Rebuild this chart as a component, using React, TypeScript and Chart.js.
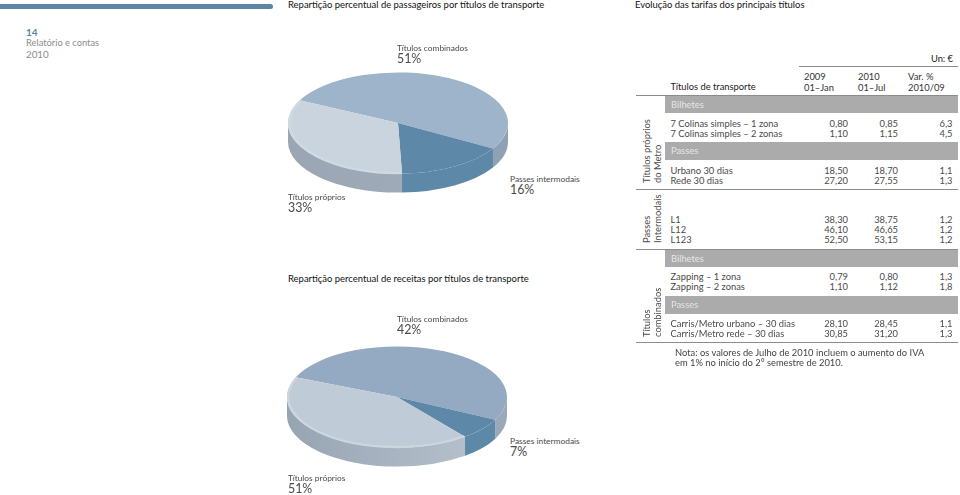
import React, { useEffect, useRef } from "react";
import { Chart, registerables } from "chart.js";

Chart.register(...registerables);

// ---- data ----
const passengerSlices = [51, 16, 33];
const revenueSlices = [51, 7, 42];
const sliceNames = ["Títulos combinados", "Passes intermodais", "Títulos próprios"];

const passengerLabels = ["51%", "16%", "33%"];
const revenueLabels = ["42%", "7%", "51%"];

const table1Header = ["2009", "2010", "Var. %"];
const table1Sub = ["01–Jan", "01–Jul", "2010/09"];

const bilhetesMetro = [
  ["7 Colinas simples – 1 zona", "0,80", "0,85", "6,3"],
  ["7 Colinas simples – 2 zonas", "1,10", "1,15", "4,5"],
];
const passesMetro = [
  ["Urbano 30 dias", "18,50", "18,70", "1,1"],
  ["Rede 30 dias", "27,20", "27,55", "1,3"],
];
const intermodais = [
  ["L1", "38,30", "38,75", "1,2"],
  ["L12", "46,10", "46,65", "1,2"],
  ["L123", "52,50", "53,15", "1,2"],
];
const bilhetesComb = [
  ["Zapping – 1 zona", "0,79", "0,80", "1,3"],
  ["Zapping – 2 zonas", "1,10", "1,12", "1,8"],
];
const passesComb = [
  ["Carris/Metro urbano – 30 dias", "28,10", "28,45", "1,1"],
  ["Carris/Metro rede – 30 dias", "30,85", "31,20", "1,3"],
];

const FONT = "Lato, 'Open Sans', sans-serif";
const BODY = 9.35;
const PIE_LABEL = 8.4;
const PIE_PCT = 12.4;

const extrude = {
  id: "extrude",
  beforeDatasetsDraw(chart: any, _a: any, opts: any) {
    const { ctx } = chart;
    const arcs = chart.getDatasetMeta(0).data;
    const k = opts.squash;
    const depth = opts.depth;
    const first = arcs[0];
    const cx = first.x;
    const cy = first.y;
    const r = first.outerRadius;
    ctx.save();
    arcs.forEach((arc: any, i: number) => {
      for (const shift of [0, Math.PI * 2, -Math.PI * 2]) {
        const a = Math.max(arc.startAngle + shift, 0);
        const b = Math.min(arc.endAngle + shift, Math.PI);
        if (b <= a) continue;
        ctx.beginPath();
        ctx.ellipse(cx, cy, r, r * k, 0, a, b);
        ctx.ellipse(cx, cy + depth, r, r * k, 0, b, a, true);
        ctx.closePath();
        const g = ctx.createLinearGradient(cx - r, 0, cx + r, 0);
        const stops = opts.wall[i];
        g.addColorStop(0, stops[0]);
        g.addColorStop(1, stops[1]);
        ctx.fillStyle = g;
        ctx.fill();
      }
    });
    ctx.restore();
    ctx.save();
    ctx.translate(cx, cy);
    ctx.scale(1, k);
    ctx.translate(-cx, -cy);
  },
  afterDatasetsDraw(chart: any, _a: any, opts: any) {
    const { ctx } = chart;
    ctx.restore();
    const arcs = chart.getDatasetMeta(0).data;
    const own = arcs[2];
    const r = own.outerRadius - 1.2;
    ctx.save();
    ctx.beginPath();
    ctx.ellipse(own.x, own.y, r, r * opts.squash, 0, own.startAngle, own.endAngle);
    ctx.strokeStyle = opts.rim;
    ctx.lineWidth = 2.2;
    ctx.stroke();
    ctx.restore();
  },
};

function Pie({ values, colors, wall, rim, rotation, squash, depth, left, top }: any) {
  const ref = useRef<HTMLCanvasElement>(null);
  useEffect(() => {
    const chart = new Chart(ref.current as HTMLCanvasElement, {
      type: "pie",
      data: {
        labels: sliceNames,
        datasets: [{ data: values, backgroundColor: colors, borderWidth: 0 }],
      },
      options: {
        responsive: false,
        animation: false,
        rotation,
        layout: { padding: 2 },
        plugins: {
          legend: { display: false },
          tooltip: { enabled: false },
          extrude: { squash, depth, wall, rim },
        } as any,
      },
      plugins: [extrude],
    });
    return () => chart.destroy();
  }, []);
  return (
    <canvas
      ref={ref}
      width={224}
      height={224}
      style={{ position: "absolute", left, top, width: 224, height: 224 }}
    />
  );
}

function T({ x, y, size = BODY, color = "#4A4A4A", weight = 400, right, children }: any) {
  const style: any = {
    position: "absolute",
    top: y,
    transform: "translateY(-50%)",
    fontSize: size,
    color,
    fontWeight: weight,
    whiteSpace: "nowrap",
    lineHeight: 1,
  };
  if (right) style.right = 960 - x;
  else style.left = x;
  return <div style={style}>{children}</div>;
}

function VT({ x, y, children }: any) {
  return (
    <div
      style={{
        position: "absolute",
        left: x,
        top: y,
        transformOrigin: "0 50%",
        transform: "translateY(-50%) rotate(-90deg)",
        fontSize: BODY,
        color: "#4A4A4A",
        whiteSpace: "nowrap",
        lineHeight: 1,
      }}
    >
      {children}
    </div>
  );
}

function Rect({ x, y, w, h, c, r }: any) {
  return (
    <div
      style={{
        position: "absolute",
        left: x,
        top: y,
        width: w,
        height: h,
        background: c,
        borderRadius: r || 0,
      }}
    />
  );
}

function Rows({ rows, ys }: any) {
  return rows.map((row: string[], i: number) => (
    <React.Fragment key={i}>
      <T x={670.5} y={ys[i]}>{row[0]}</T>
      <T x={848} y={ys[i]} right>{row[1]}</T>
      <T x={898} y={ys[i]} right>{row[2]}</T>
      <T x={952.5} y={ys[i]} right>{row[3]}</T>
    </React.Fragment>
  ));
}

const Bar = ({ y, h, text }: any) => (
  <>
    <Rect x={665} y={y} w={293} h={h} c="#ABABAB" />
    <T x={671} y={y + h / 2} color="#E6E6E6">{text}</T>
  </>
);

const Line = ({ x = 636, y, w = 322, h = 1 }: any) => (
  <Rect x={x} y={y} w={w} h={h} c="#8C8C8C" />
);

export default function App() {
  useEffect(() => {
    document.body.style.margin = "0";
  }, []);
  return (
    <div
      style={{
        position: "fixed",
        left: 0,
        top: 0,
        width: 960,
        height: 495,
        overflow: "hidden",
        background: "#fff",
        fontFamily: FONT,
      }}
    >
      <Pie
        values={passengerSlices}
        colors={["#9DB4CA", "#5D88A7", "#C9D4DE"]}
        wall={[["#8FA2B5", "#8FA2B5"], ["#5D88A7", "#5D88A7"], ["#9AA6B4", "#A3AEBB"]]}
        rim="#D0DAE3"
        rotation={296.7}
        squash={0.46}
        depth={19}
        left={285.5}
        top={10.5}
      />
      <Pie
        values={revenueSlices}
        colors={["#93AAC2", "#5D88A8", "#BFCBD6"]}
        wall={[["#97A4B2", "#9AA9B8"], ["#5D88A8", "#5D88A8"], ["#97A4B2", "#BAC5D0"]]}
        rim="#CBD6DF"
        rotation={293}
        squash={0.46}
        depth={19}
        left={285}
        top={284.7}
      />

      <Rect x={-5} y={3.5} w={277.5} h={5} c="#5B85A4" r={3} />
      <T x={26} y={32} size={10} color="#5B85A4" weight={700}>14</T>
      <T x={26} y={43} size={9.3} color="#8C8C8C">Relatório e contas</T>
      <T x={26} y={54.5} size={9.8} color="#8C8C8C">2010</T>

      <T x={288} y={5} color="#111" size={9.45}>Repartição percentual de passageiros por títulos de transporte</T>
      <T x={635} y={5} color="#111" size={9.45}>Evolução das tarifas dos principais títulos</T>
      <T x={288} y={279} color="#111" size={9.45}>Repartição percentual de receitas por títulos de transporte</T>

      <T x={397} y={48} size={PIE_LABEL}>{sliceNames[0]}</T>
      <T x={397} y={59} size={PIE_PCT}>{passengerLabels[0]}</T>
      <T x={510} y={179} size={PIE_LABEL}>{sliceNames[1]}</T>
      <T x={510} y={190} size={PIE_PCT}>{passengerLabels[1]}</T>
      <T x={288} y={197} size={PIE_LABEL}>{sliceNames[2]}</T>
      <T x={288} y={208} size={PIE_PCT}>{passengerLabels[2]}</T>

      <T x={397} y={319} size={PIE_LABEL}>{sliceNames[0]}</T>
      <T x={397} y={330} size={PIE_PCT}>{revenueLabels[0]}</T>
      <T x={510} y={441} size={PIE_LABEL}>{sliceNames[1]}</T>
      <T x={510} y={452} size={PIE_PCT}>{revenueLabels[1]}</T>
      <T x={288} y={478} size={PIE_LABEL}>{sliceNames[2]}</T>
      <T x={288} y={489} size={PIE_PCT}>{revenueLabels[2]}</T>

      <T x={953} y={59} right color="#222">Un: €</T>
      <Line x={799} y={66} w={159} />
      <T x={670.5} y={87} color="#222">Títulos de transporte</T>
      <T x={804} y={76.5} color="#333">{table1Header[0]}</T>
      <T x={804} y={87.5} color="#333">{table1Sub[0]}</T>
      <T x={858} y={76.5} color="#333">{table1Header[1]}</T>
      <T x={858} y={87.5} color="#333">{table1Sub[1]}</T>
      <T x={908} y={76.5} color="#333">{table1Header[2]}</T>
      <T x={908} y={87.5} color="#333">{table1Sub[2]}</T>
      <Line y={94.5} />

      <Bar y={96} h={17} text="Bilhetes" />
      <Rows rows={bilhetesMetro} ys={[123.5, 133.5]} />
      <Bar y={142} h={18} text="Passes" />
      <Rows rows={passesMetro} ys={[170.5, 181]} />
      <Line y={188.5} />
      <Rows rows={intermodais} ys={[219.5, 229.7, 240]} />
      <Line y={248.5} />
      <Bar y={250} h={17} text="Bilhetes" />
      <Rows rows={bilhetesComb} ys={[276.7, 287]} />
      <Bar y={296} h={18} text="Passes" />
      <Rows rows={passesComb} ys={[324, 334]} />
      <Line y={342} />

      <VT x={647} y={183}>Títulos próprios</VT>
      <VT x={658} y={183}>do Metro</VT>
      <VT x={647} y={243}>Passes</VT>
      <VT x={658} y={243}>Intermodais</VT>
      <VT x={647} y={337}>Títulos</VT>
      <VT x={658} y={337}>combinados</VT>

      <T x={675} y={352.5} color="#444">Nota: os valores de Julho de 2010 incluem o aumento do IVA</T>
      <T x={675} y={363} color="#444">em 1% no início do 2° semestre de 2010.</T>
    </div>
  );
}
